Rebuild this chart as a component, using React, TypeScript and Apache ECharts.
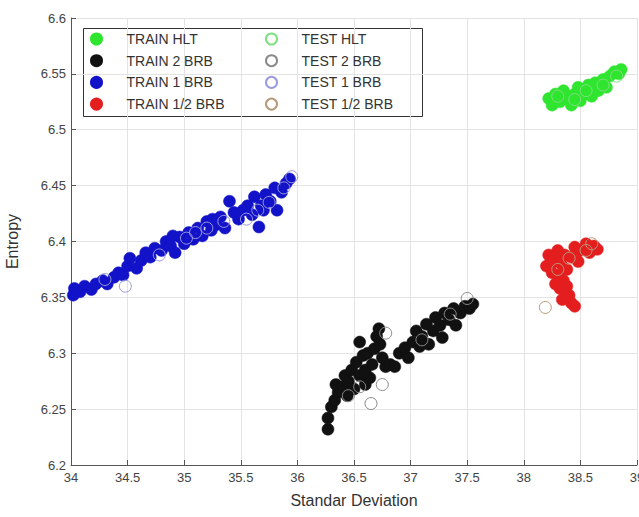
import React, { useEffect, useRef } from "react";
import * as echarts from "echarts";

const xTicks = { min: 34, max: 39, interval: 0.5 };
const yTicks = { min: 6.2, max: 6.6, interval: 0.05 };

const trainHLT: [number, number][] = [
  [38.22, 6.528], [38.25, 6.522], [38.28, 6.532], [38.32, 6.525], [38.35, 6.535],
  [38.38, 6.528], [38.42, 6.522], [38.45, 6.532], [38.48, 6.538], [38.5, 6.526],
  [38.54, 6.532], [38.57, 6.54], [38.6, 6.53], [38.63, 6.542], [38.66, 6.535],
  [38.7, 6.545], [38.73, 6.538], [38.76, 6.548], [38.8, 6.552], [38.84, 6.55],
  [38.86, 6.554], [38.4, 6.53], [38.62, 6.536],
];
const testHLT: [number, number][] = [
  [38.3, 6.53], [38.55, 6.535], [38.7, 6.54], [38.45, 6.527], [38.82, 6.548],
];

const train2BRB: [number, number][] = [
  [36.27, 6.232], [36.27, 6.242], [36.3, 6.252], [36.33, 6.258], [36.36, 6.265],
  [36.34, 6.272], [36.4, 6.27], [36.42, 6.28], [36.45, 6.275], [36.48, 6.285],
  [36.5, 6.268], [36.52, 6.292], [36.55, 6.31], [36.58, 6.298], [36.6, 6.285],
  [36.62, 6.3], [36.66, 6.29], [36.68, 6.304], [36.7, 6.315], [36.72, 6.322],
  [36.73, 6.308], [36.75, 6.296], [36.78, 6.288], [36.82, 6.29], [36.86, 6.288],
  [36.64, 6.278], [36.55, 6.28], [36.44, 6.262], [36.6, 6.272],
  [36.9, 6.3], [36.95, 6.305], [36.98, 6.296], [37.02, 6.31], [37.05, 6.32],
  [37.08, 6.306], [37.1, 6.315], [37.14, 6.326], [37.16, 6.308], [37.2, 6.32],
  [37.22, 6.332], [37.26, 6.325], [37.28, 6.314], [37.3, 6.336], [37.34, 6.33],
  [37.38, 6.34], [37.4, 6.325], [37.44, 6.336], [37.48, 6.342], [37.52, 6.34],
  [37.55, 6.344],
];
const test2BRB: [number, number][] = [
  [36.65, 6.255], [36.75, 6.272], [36.78, 6.318], [36.55, 6.27], [37.5, 6.349],
  [37.35, 6.335], [36.45, 6.262], [37.1, 6.312],
];

const train1BRB: [number, number][] = [
  [34.02, 6.352], [34.03, 6.358], [34.08, 6.355], [34.12, 6.36], [34.18, 6.357],
  [34.22, 6.362], [34.28, 6.365], [34.32, 6.362], [34.38, 6.368], [34.42, 6.372],
  [34.46, 6.37], [34.5, 6.378], [34.52, 6.385], [34.58, 6.376], [34.62, 6.383],
  [34.66, 6.39], [34.7, 6.386], [34.74, 6.394], [34.8, 6.392], [34.84, 6.4],
  [34.88, 6.396], [34.92, 6.39], [34.96, 6.404], [35.0, 6.398], [35.04, 6.408],
  [35.08, 6.402], [35.12, 6.412], [35.16, 6.405], [35.2, 6.418], [35.24, 6.41],
  [35.28, 6.415], [35.32, 6.422], [35.36, 6.412], [35.4, 6.436], [35.44, 6.426],
  [35.48, 6.42], [35.52, 6.428], [35.56, 6.432], [35.6, 6.424], [35.62, 6.44],
  [35.66, 6.413], [35.68, 6.432], [35.72, 6.442], [35.76, 6.436], [35.8, 6.448],
  [35.82, 6.428], [35.86, 6.444], [35.9, 6.452], [35.93, 6.456], [35.7, 6.428],
  [35.25, 6.42], [34.9, 6.405],
];
const test1BRB: [number, number][] = [
  [34.48, 6.36], [34.78, 6.388], [35.02, 6.403], [35.1, 6.408], [35.2, 6.412],
  [35.35, 6.418], [35.55, 6.42], [35.75, 6.435], [35.88, 6.448], [35.95, 6.458],
  [34.3, 6.366], [35.65, 6.428],
];

const trainHalfBRB: [number, number][] = [
  [38.2, 6.378], [38.22, 6.388], [38.25, 6.372], [38.28, 6.385], [38.3, 6.392],
  [38.33, 6.38], [38.36, 6.388], [38.38, 6.375], [38.42, 6.386], [38.45, 6.395],
  [38.48, 6.382], [38.5, 6.392], [38.55, 6.398], [38.58, 6.39], [38.62, 6.396],
  [38.65, 6.393], [38.3, 6.37], [38.35, 6.365], [38.32, 6.358], [38.38, 6.36],
  [38.4, 6.352], [38.34, 6.348], [38.42, 6.345], [38.45, 6.342], [38.28, 6.362],
  [38.24, 6.38],
];
const testHalfBRB: [number, number][] = [
  [38.19, 6.341], [38.55, 6.392], [38.4, 6.385], [38.3, 6.375], [38.6, 6.398],
];

const FONT = "Liberation Sans, Arial, sans-serif";

export default function App() {
  const ref = useRef<HTMLDivElement>(null);
  useEffect(() => {
    if (!ref.current) return;
    const chart = echarts.init(ref.current, null, { renderer: "svg" });
    const filled = (name: string, data: [number, number][], color: string) => ({
      name,
      type: "scatter",
      data,
      symbol: "circle",
      symbolSize: 12,
      itemStyle: { color, borderColor: color, borderWidth: 0.5, opacity: 1 },
    });
    const hollow = (name: string, data: [number, number][], color: string) => ({
      name,
      type: "scatter",
      data,
      symbol: "circle",
      symbolSize: 12,
      itemStyle: { color: "rgba(0,0,0,0)", borderColor: color, borderWidth: 1, opacity: 1 },
    });
    const legendCommon = {
      orient: "vertical",
      top: 32,
      padding: 0,
      itemWidth: 50,
      itemHeight: 11,
      itemGap: 7.7,
      icon: "circle",
      selectedMode: false,
      textStyle: { fontFamily: FONT, fontSize: 14, color: "#333", lineHeight: 14 },
    };
    chart.setOption({
      animation: false,
      backgroundColor: "#fff",
      grid: {
        left: 71,
        top: 18,
        right: 2,
        bottom: 52,
        containLabel: false,
        outerBoundsMode: "none",
      },
      xAxis: {
        type: "value",
        min: xTicks.min,
        max: xTicks.max,
        interval: xTicks.interval,
        name: "Standar Deviation",
        nameLocation: "middle",
        nameGap: 27,
        nameTextStyle: { fontFamily: FONT, fontSize: 16, color: "#333" },
        axisLine: { show: true, lineStyle: { color: "#555", width: 1 } },
        axisTick: { show: true, inside: true, length: 5, lineStyle: { color: "#555" } },
        axisLabel: {
          fontFamily: FONT,
          fontSize: 13,
          color: "#444",
          margin: 6,
          formatter: (v: number) => String(+v.toFixed(1)),
        },
        splitLine: { show: true, lineStyle: { color: "#e3e3e3", width: 1 } },
      },
      yAxis: {
        type: "value",
        min: yTicks.min,
        max: yTicks.max,
        interval: yTicks.interval,
        name: "Entropy",
        nameLocation: "middle",
        nameGap: 51,
        nameTextStyle: { fontFamily: FONT, fontSize: 16, color: "#333" },
        axisLine: { show: true, lineStyle: { color: "#555", width: 1 } },
        axisTick: { show: true, inside: true, length: 5, lineStyle: { color: "#555" } },
        axisLabel: {
          fontFamily: FONT,
          fontSize: 13,
          color: "#444",
          margin: 5,
          formatter: (v: number) => String(+v.toFixed(2)),
        },
        splitLine: { show: true, lineStyle: { color: "#e3e3e3", width: 1 } },
      },
      legend: [
        {
          ...legendCommon,
          left: 90,
          data: ["TRAIN HLT", "TRAIN 2 BRB", "TRAIN 1 BRB", "TRAIN 1/2 BRB"],
        },
        {
          ...legendCommon,
          left: 265,
          data: ["TEST HLT", "TEST 2 BRB", "TEST 1 BRB", "TEST 1/2 BRB"],
        },
      ],
      graphic: [
        {
          type: "rect",
          shape: { x: 83.5, y: 28.5, width: 339, height: 88 },
          style: { fill: "#fff", stroke: "#333", lineWidth: 1 },
          z: 0,
          zlevel: 0,
        },
      ],
      series: [
        filled("TRAIN HLT", trainHLT, "#2fe52f"),
        filled("TRAIN 2 BRB", train2BRB, "#111111"),
        filled("TRAIN 1 BRB", train1BRB, "#1212c8"),
        filled("TRAIN 1/2 BRB", trainHalfBRB, "#e41e1e"),
        hollow("TEST HLT", testHLT, "#7ee07e"),
        hollow("TEST 2 BRB", test2BRB, "#8a8a8a"),
        hollow("TEST 1 BRB", test1BRB, "#9a9ae0"),
        hollow("TEST 1/2 BRB", testHalfBRB, "#b89a7a"),
      ],
    });
    return () => chart.dispose();
  }, []);
  return (
    <div
      ref={ref}
      style={{ position: "fixed", left: 0, top: 0, width: 639, height: 517 }}
    />
  );
}
